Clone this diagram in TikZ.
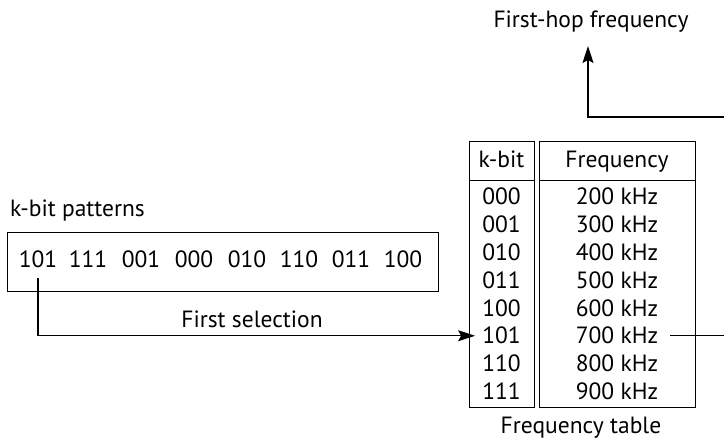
\documentclass[tikz,border=0pt]{standalone}
\usepackage{fontspec}
\setmainfont{PT Sans}
\usetikzlibrary{arrows.meta,calc}
\begin{document}
\begin{tikzpicture}[x=1pt,y=-1pt,
  txt/.style={inner sep=0pt, anchor=base, font=\fontsize{23.5}{27}\selectfont},
  box/.style={draw, line width=1pt, inner sep=0pt},
  conn/.style={line width=1.3pt},
  arr/.style={conn, -{Stealth[length=17pt,width=11pt,inset=3pt]}}]
\useasboundingbox (0,0) rectangle (724,443);
\clip (0,0) rectangle (724,443);
% title
\node[txt] (hop) at (591,28) {First-hop frequency};
% pattern box
\node[txt, anchor=base west] (plabel) at (10,217) {k-bit patterns};
\node[box, minimum width=431pt, minimum height=59pt] (pbox) at (222.5,262.5) {};
\foreach \n/\x/\t in {p1/38/101,p2/88/111,p3/141/001,p4/194/000,p5/247/010,p6/299/110,p7/351/011,p8/403/100}
  \node[txt] (\n) at (\x,268) {\t};
\node[txt] (sel) at (252,328) {First selection};
% table
\node[box, minimum width=65pt, minimum height=266pt] (kcol) at (501.5,275) {};
\node[box, minimum width=156pt, minimum height=266pt] (fcol) at (617,275) {};
\draw[line width=1pt] ($(kcol.north west)+(0,39)$) -- ($(kcol.north east)+(0,39)$);
\draw[line width=1pt] ($(fcol.north west)+(0,39)$) -- ($(fcol.north east)+(0,39)$);
\node[txt] (kh) at (501.5,168) {k-bit};
\node[txt] (fh) at (617,168) {Frequency};
\foreach \i/\k/\f in {0/000/200,1/001/300,2/010/400,3/011/500,4/100/600,5/101/700,6/110/800,7/111/900}{
  \node[txt] (r\k) at (501.5,{204.5+27.9*\i}) {\k};
  \node[txt] (f\f) at (617,{204.5+27.9*\i}) {\f\ kHz};
}
\node[txt] (tab) at (581,434) {Frequency table};
% connectors
\coordinate (s0) at (38,278);
\draw[arr] (s0) |- ([xshift=-7pt]r101.west);
\coordinate (edge) at (740,117);
\coordinate (turn) at (588,117);
\coordinate (tip) at (588,46);
\draw[arr] ([xshift=12pt]f700.east) -| (edge) -- (turn) -- (tip);
\end{tikzpicture}
\end{document}
